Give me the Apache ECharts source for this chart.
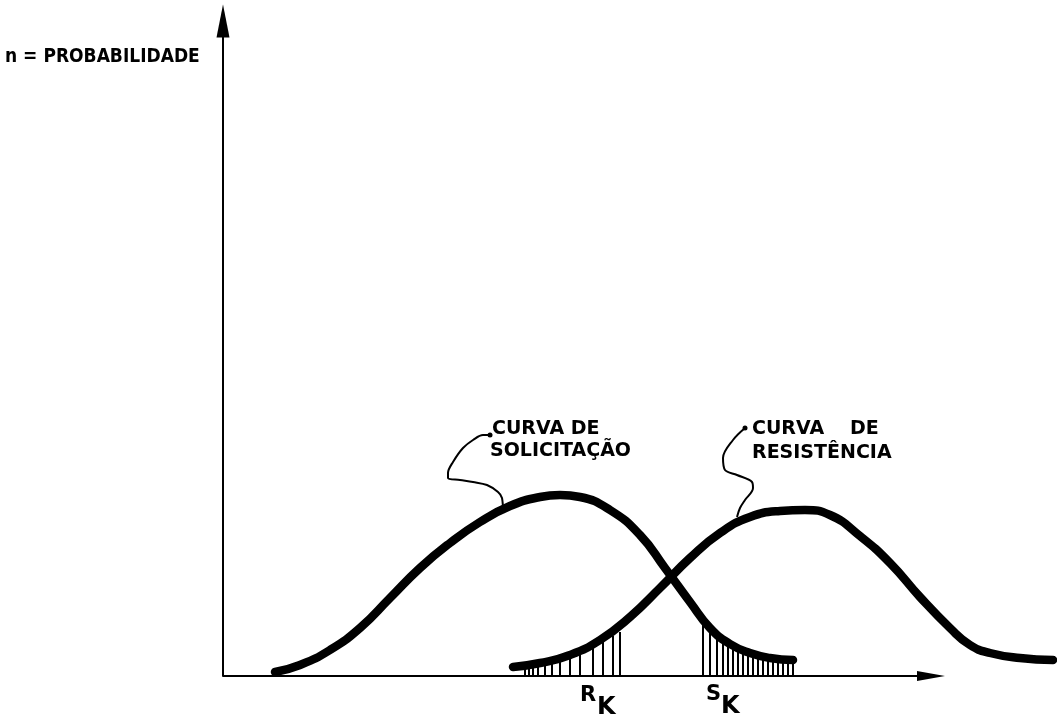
<!DOCTYPE html>
<html>
<head>
<meta charset="utf-8">
<title>Curvas de solicitação e resistência</title>
<script src="https://cdn.jsdelivr.net/npm/echarts@6/dist/echarts.min.js"></script>
<style>
html,body{margin:0;padding:0;background:#fff;}
#chart{width:1057px;height:725px;}
</style>
</head>
<body>
<div id="chart"></div>
<script>
// pontos (x, n)
var curvaSolicitacao = [[52,4],[77,11],[107,26],[137,48],[167,78],[197,108],[227,133],[257,154],[287,170],[317,179],
	[337,181],[357,179],[387,166],[417,141],[442,108],[467,74],[487,48],[507,32],[527,23],[547,18],[570,16]]
var curvaResistencia = [[290,9],[317,13],[347,21],[377,36],[407,59],[437,88],[467,118],[497,143],[527,159],[557,165],
	[582,166],[607,161],[637,140],[667,113],[697,79],[727,48],[747,31],[767,23],[797,18],[830,16]]
// hachuras (abaixo de Rk e acima de Sk)
var hachuraRk = [[302,9],[306,9],[310,10],[315,11],[322,12],[329,14],[337,16],[347,19],[357,23],[370,29],[380,35],[390,40],[397,44]]
var hachuraSk = [[480,52],[487,43],[494,37],[500,33],[505,30],[510,27],[515,25],[520,23],[525,21],[530,20],[535,19],
	[540,18],[545,17],[550,17],[555,16],[560,16],[565,16],[570,16]]
// linhas de chamada dos rótulos
var chamadaSolicitacao = [[267,241],[260,241],[250,236],[240,228],[230,214],[225,203],[225,198],[237,196],[250,194],
	[264,191],[275,184],[279,178],[280,164]]
var chamadaResistencia = [[522,248],[510,236],[500,218],[502,206],[514,201],[529,194],[530,188],[522,176],[517,168],[514,159]]
// fim do eixo das abscissas (seta)
var eixoX = [0,708]

var tinta = '#000'

function linhaCurva(dados){
	return {
		type:'line',
		data:dados,
		smooth:0.5,
		symbol:'none',
		clip:false,
		lineStyle:{color:tinta,width:8.5,cap:'round'},
		z:3
	}
}
function linhaChamada(dados){
	var d = dados.map(function(p,i){
		return i==0 ? {value:p,symbol:'circle',symbolSize:5} : {value:p}
	})
	return {
		type:'line',
		data:d,
		smooth:0.35,
		symbol:'none',
		showAllSymbol:true,
		clip:false,
		itemStyle:{color:tinta},
		lineStyle:{color:tinta,width:2},
		z:2
	}
}
function hachura(dados){
	return {
		type:'custom',
		data:dados,
		clip:false,
		renderItem:function(params,api){
			var p0 = api.coord([api.value(0),0])
			var p1 = api.coord([api.value(0),api.value(1)])
			return {type:'line',shape:{x1:p0[0],y1:p0[1],x2:p1[0],y2:p1[1]},style:{stroke:tinta,lineWidth:2}}
		},
		z:1
	}
}

var fonte = 'bold 19px "DejaVu Sans"'
function texto(t,x,y,font){
	return {type:'text',x:x,y:y,style:{text:t,font:font||fonte,fill:tinta,verticalAlign:'middle'}}
}

var serieSolicitacao = linhaCurva(curvaSolicitacao)
serieSolicitacao.markLine = {
	silent:true,
	animation:false,
	symbol:['none','triangle'],
	symbolSize:[10,28],
	label:{show:false},
	lineStyle:{color:tinta,width:2,type:'solid'},
	data:[[{coord:[eixoX[0],0]},{coord:[eixoX[1],0]}]]
}

var option = {
	animation:false,
	backgroundColor:'#fff',
	grid:{left:223,right:0,top:21,bottom:49},
	xAxis:{
		type:'value',min:0,max:834,
		splitLine:{show:false},axisTick:{show:false},axisLabel:{show:false},
		axisLine:{show:false}
	},
	yAxis:{
		type:'value',min:0,max:655,
		splitLine:{show:false},axisTick:{show:false},axisLabel:{show:false},
		axisLine:{show:true,onZero:false,symbol:['none','triangle'],symbolSize:[13,33],lineStyle:{color:tinta,width:2}}
	},
	graphic:[
		texto('n = PROBABILIDADE',5,57,'bold 19px "DejaVu Sans Condensed"'),
		texto('CURVA DE',492,429),
		texto('SOLICITAÇÃO',490,451),
		texto('CURVA',752,429),
		texto('DE',850,429),
		texto('RESISTÊNCIA',752,453),
		texto('R',580,696,'bold 21px "DejaVu Sans"'),
		texto('K',597,708,'bold 24px "DejaVu Sans"'),
		texto('S',706,695,'bold 21px "DejaVu Sans"'),
		texto('K',721,707,'bold 24px "DejaVu Sans"')
	],
	series:[
		hachura(hachuraRk),
		hachura(hachuraSk),
		serieSolicitacao,
		linhaCurva(curvaResistencia),
		linhaChamada(chamadaSolicitacao),
		linhaChamada(chamadaResistencia)
	]
}
var myChart = echarts.init(document.getElementById('chart'))
myChart.setOption(option)
</script>
</body>
</html>
